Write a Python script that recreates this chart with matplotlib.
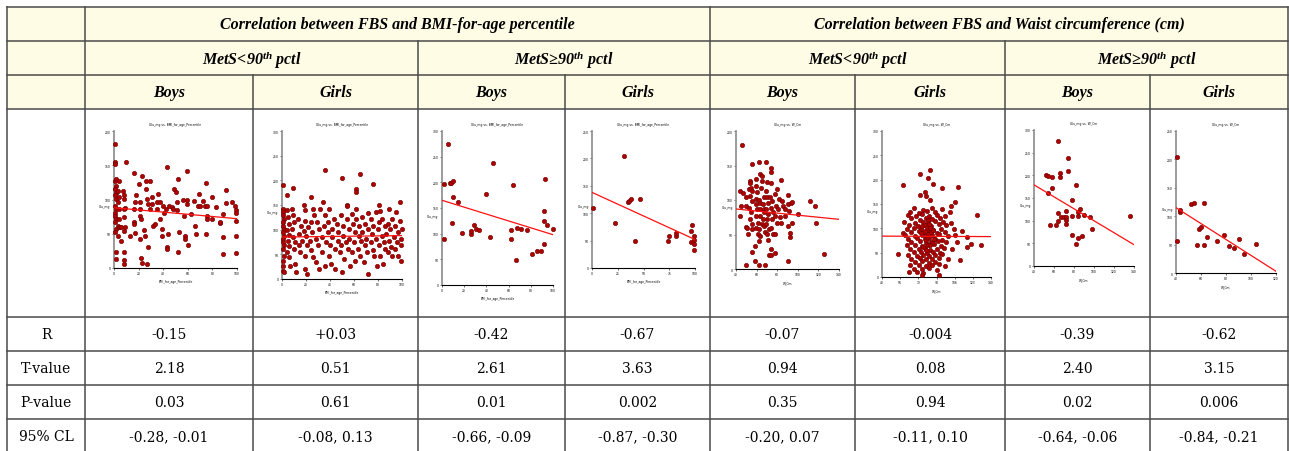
import numpy as np
import matplotlib
matplotlib.use("Agg")
import matplotlib.pyplot as plt
from matplotlib.patches import Rectangle

# table of FBS correlations with small scatter plots in the middle row

W, H = 1289, 452

group_titles = ["Correlation between FBS and BMI-for-age percentile",
                "Correlation between FBS and Waist circumference (cm)"]
mets_titles = ["MetS<90$^{\\mathrm{th}}$ pctl", "MetS\u226590$^{\\mathrm{th}}$ pctl",
               "MetS<90$^{\\mathrm{th}}$ pctl", "MetS\u226590$^{\\mathrm{th}}$ pctl"]
sex_titles = ["Boys", "Girls"] * 4

row_names = ["R", "T-value", "P-value", "95% CL"]
r_vals = ["-0.15", "+0.03", "-0.42", "-0.67", "-0.07", "-0.004", "-0.39", "-0.62"]
t_vals = ["2.18", "0.51", "2.61", "3.63", "0.94", "0.08", "2.40", "3.15"]
p_vals = ["0.03", "0.61", "0.01", "0.002", "0.35", "0.94", "0.02", "0.006"]
cl_vals = ["-0.28, -0.01", "-0.08, 0.13", "-0.66, -0.09", "-0.87, -0.30",
           "-0.20, 0.07", "-0.11, 0.10", "-0.64, -0.06", "-0.84, -0.21"]

# scatter data (x, Glu_mg)
boys_bmi_low = [
    (1, 181), (1, 155), (1, 152), (1, 127), (2, 130), (2, 120), (1, 115), (2, 110), (1, 106), (2, 101),
    (3, 96), (1, 91), (2, 86), (1, 81), (1, 76), (2, 72), (1, 67), (3, 62), (2, 57), (1, 52),
    (4, 127), (3, 113), (4, 103), (4, 86), (4, 72), (4, 60), (3, 47), (2, 24), (2, 13), (5, 60),
    (6, 60), (7, 113), (8, 106), (8, 101), (9, 87), (8, 86), (8, 74), (9, 60), (8, 54), (6, 40),
    (8, 23), (8, 12), (8, 6), (10, 155), (16, 138), (23, 135), (20, 122), (18, 106), (17, 96), (16, 86),
    (16, 67), (16, 64), (13, 47), (17, 51), (21, 96), (21, 86), (21, 76), (22, 72), (21, 43), (22, 14),
    (23, 8), (27, 6), (28, 30), (24, 55), (25, 47), (26, 115), (26, 127), (29, 127), (27, 101), (28, 93),
    (29, 86), (31, 103), (31, 93), (32, 62), (33, 64), (35, 96), (35, 86), (36, 108), (37, 96), (37, 72),
    (39, 57), (39, 47), (40, 91), (41, 81), (42, 86), (43, 30), (43, 28), (43, 147), (44, 50), (45, 91),
    (47, 89), (48, 86), (49, 115), (50, 111), (51, 84), (51, 96), (52, 130), (52, 23), (53, 52), (56, 100),
    (57, 76), (58, 47), (58, 43), (59, 141), (59, 100), (59, 93), (60, 34), (63, 79), (65, 98), (66, 62),
    (67, 50), (68, 91), (69, 108), (70, 91), (72, 98), (74, 91), (75, 50), (75, 124), (76, 91), (76, 76),
    (76, 72), (80, 103), (80, 71), (83, 89), (86, 66), (86, 67), (89, 45), (89, 21), (89, 79), (91, 114),
    (91, 95), (96, 96), (98, 91), (99, 85), (99, 80), (99, 68), (99, 46), (99, 22),
]
girls_bmi_low = [
    (36, 220), (50, 204), (65, 213), (76, 192), (62, 183), (62, 176), (1, 190), (9, 185), (4, 171), (24, 167),
    (34, 157), (81, 151), (98, 156), (54, 150), (54, 148), (72, 133), (82, 137), (62, 142),
    (1, 142), (1, 135), (1, 129), (2, 122), (1, 115), (1, 108), (2, 102), (1, 95), (2, 88), (1, 81),
    (1, 74), (2, 68), (1, 61), (2, 47), (1, 37), (1, 27), (1, 17), (2, 14),
    (4, 139), (5, 125), (6, 112), (4, 100), (6, 89), (5, 78), (6, 66), (4, 54), (6, 44), (7, 27),
    (8, 102), (8, 142), (9, 129), (10, 115), (9, 85), (11, 74), (10, 61), (11, 30), (12, 14), (13, 122),
    (14, 91), (14, 68), (15, 54), (16, 108), (17, 78), (18, 98), (18, 149), (19, 139), (19, 118), (20, 88),
    (21, 68), (19, 47), (19, 20), (21, 10), (22, 105), (23, 78), (24, 58), (24, 115), (25, 95), (26, 44),
    (26, 142), (27, 129), (28, 81), (28, 34), (29, 115), (30, 68), (31, 20), (31, 102), (32, 142), (33, 85),
    (33, 54), (35, 108), (36, 27), (36, 129), (37, 74), (38, 115), (38, 95), (39, 47), (39, 142), (40, 68),
    (41, 30), (42, 102), (42, 85), (43, 122), (44, 61), (44, 20), (46, 112), (47, 78), (47, 95), (48, 54),
    (49, 129), (49, 68), (50, 15), (51, 108), (51, 88), (52, 41), (53, 74), (54, 122), (55, 61), (56, 102),
    (56, 81), (57, 27), (58, 132), (58, 54), (59, 112), (60, 74), (61, 95), (61, 37), (62, 122), (63, 61),
    (64, 88), (64, 108), (65, 47), (66, 78), (67, 125), (67, 95), (68, 34), (69, 68), (69, 112), (70, 81),
    (71, 54), (72, 102), (72, 10), (74, 122), (74, 74), (75, 91), (76, 58), (76, 108), (77, 47), (78, 135),
    (78, 81), (79, 27), (80, 102), (81, 68), (81, 115), (82, 47), (83, 88), (83, 122), (84, 30), (85, 74),
    (86, 108), (86, 61), (87, 91), (88, 112), (88, 54), (89, 142), (89, 78), (90, 102), (91, 64), (92, 122),
    (92, 47), (93, 85), (94, 108), (94, 61), (95, 135), (96, 74), (97, 95), (97, 47), (98, 118), (99, 68),
    (99, 37), (99, 81), (100, 102),
]
boys_bmi_high = [
    (5, 275), (2, 197), (2, 89), (7, 198), (8, 199), (10, 203), (10, 172), (14, 161), (9, 121), (18, 101),
    (26, 100), (26, 105), (29, 117), (31, 110), (33, 108), (40, 177), (43, 93), (46, 238), (62, 107), (62, 89),
    (64, 195), (68, 112), (67, 49), (71, 110), (77, 107), (81, 61), (86, 67), (89, 67), (92, 144), (92, 79),
    (92, 124), (93, 207), (95, 116), (100, 110),
]
girls_bmi_high = [
    (31, 205), (1, 109), (22, 82), (35, 121), (36, 123), (38, 126), (47, 126), (42, 50), (74, 50), (75, 58),
    (82, 58), (82, 63), (96, 68), (97, 79), (96, 48), (99, 51), (99, 59), (99, 44), (99, 33),
]
boys_wc_low = [
    (46, 180), (44, 113), (47, 110), (50, 104), (45, 92), (44, 77), (50, 91), (50, 61), (51, 59), (52, 51),
    (50, 6), (54, 128), (54, 124), (53, 116), (55, 117), (56, 152), (56, 113), (54, 106), (56, 99), (53, 89),
    (55, 82), (54, 72), (56, 65), (56, 58), (56, 24), (58, 12), (58, 34), (59, 130), (59, 120), (60, 111),
    (59, 102), (59, 94), (60, 87), (59, 77), (61, 67), (59, 60), (61, 51), (62, 41), (62, 155), (62, 100),
    (63, 137), (65, 135), (64, 117), (63, 96), (63, 87), (63, 77), (65, 65), (62, 58), (63, 48), (62, 6),
    (65, 128), (67, 105), (66, 94), (67, 87), (67, 82), (66, 72), (67, 63), (68, 53), (68, 6), (69, 155),
    (70, 126), (69, 113), (70, 104), (71, 96), (69, 87), (71, 80), (70, 72), (69, 65), (72, 58), (70, 51),
    (71, 42), (72, 21), (74, 21), (74, 147), (74, 140), (74, 124), (73, 105), (75, 99), (74, 89), (76, 82),
    (75, 72), (74, 60), (76, 51), (74, 29), (78, 23), (78, 108), (79, 92), (78, 77), (80, 67), (78, 51),
    (80, 116), (82, 101), (81, 87), (83, 76), (84, 129), (85, 99), (86, 92), (84, 67), (88, 77), (88, 87),
    (90, 107), (90, 94), (91, 84), (90, 63), (92, 52), (92, 47), (93, 96), (94, 97), (94, 66), (90, 11),
    (100, 80), (112, 98), (117, 91), (118, 67), (125, 22),
]
girls_wc_low = [
    (75, 212), (84, 219), (82, 203), (87, 192), (59, 190), (95, 182), (110, 185), (75, 169), (79, 175), (80, 166),
    (84, 158), (107, 155), (103, 146), (127, 128), (59, 90), (55, 47), (131, 66), (122, 67), (118, 82), (112, 34),
    (113, 94), (118, 62),
    (69, 141), (78, 138), (86, 142), (95, 139), (66, 134), (74, 131), (81, 135), (89, 133), (102, 134),
    (64, 127), (71, 125), (77, 129), (83, 126), (90, 128), (98, 125), (67, 121), (75, 118), (80, 122), (86, 119),
    (93, 121), (60, 113), (70, 111), (78, 114), (82, 112), (89, 115), (96, 113), (103, 111), (65, 106), (73, 104),
    (79, 107), (85, 105), (92, 108), (99, 106), (63, 99), (69, 101), (76, 98), (81, 100), (87, 97), (94, 99),
    (106, 98), (67, 92), (74, 94), (78, 91), (83, 93), (90, 90), (98, 92), (61, 86), (70, 85), (77, 87),
    (80, 84), (86, 86), (92, 88), (101, 85), (107, 87), (64, 79), (72, 80), (79, 78), (83, 81), (89, 79),
    (95, 77), (67, 72), (75, 73), (80, 70), (85, 72), (91, 74), (99, 71), (109, 72), (63, 65), (70, 66),
    (77, 64), (82, 65), (88, 67), (94, 64), (66, 58), (74, 57), (79, 59), (84, 56), (90, 58), (97, 60),
    (104, 57), (69, 51), (76, 52), (81, 49), (87, 51), (93, 50), (64, 45), (72, 44), (78, 46), (83, 43),
    (89, 45), (95, 47), (67, 38), (75, 39), (80, 36), (86, 38), (92, 40), (101, 37), (70, 31), (77, 32),
    (83, 29), (89, 31), (66, 24), (74, 25), (80, 22), (86, 24), (92, 26), (98, 23), (69, 17), (77, 16),
    (83, 18), (90, 15), (65, 10), (72, 11), (78, 9), (77, 5), (92, 5),
    (79, 95), (82, 88), (84, 100), (80, 76), (86, 70), (78, 62), (83, 108), (81, 83), (85, 92), (77, 104),
    (88, 79), (80, 55), (84, 66), (76, 90), (82, 118), (87, 97),
]
boys_wc_high = [
    (64, 276), (74, 239), (52, 200), (54, 199), (58, 197), (66, 205), (66, 196), (74, 209), (58, 173), (54, 161),
    (82, 178), (78, 146), (64, 118), (72, 122), (67, 109), (70, 107), (72, 109), (72, 102), (72, 93), (64, 100),
    (56, 90), (62, 90), (78, 111), (84, 119), (86, 125), (84, 111), (90, 113), (96, 108), (78, 69), (88, 67),
    (84, 62), (82, 49), (98, 81), (136, 111),
]
girls_wc_high = [
    (41, 204), (41, 57), (43, 108), (43, 111), (52, 121), (54, 124), (62, 124), (58, 78), (60, 81), (57, 49),
    (62, 50), (65, 63), (73, 57), (78, 67), (82, 47), (86, 44), (90, 59), (94, 33), (104, 51),
]

# regression line value at left and right end of x range
fits = [(88, 72), (85, 88), (165, 98), (138, 52), (87, 72), (84, 83), (179, 47), (115, 3)]

plt.rcParams["mathtext.fontset"] = "custom"
plt.rcParams["mathtext.rm"] = "Liberation Serif:bold:italic"
plt.rcParams["mathtext.it"] = "Liberation Serif:bold:italic"
plt.rcParams["mathtext.bf"] = "Liberation Serif:bold:italic"

HEAD = dict(family=["Liberation Serif", "DejaVu Serif"], weight="bold", style="italic", fontsize=11.5)
BODY = dict(family=["DejaVu Serif"], fontsize=10)

fig = plt.figure(figsize=(W / 100, H / 100), dpi=100)
ax = fig.add_axes([0, 0, 1, 1])
ax.set_xlim(0, W)
ax.set_ylim(H, 0)
ax.axis("off")

cols = [7, 85, 253, 418, 565, 710, 855, 1005, 1150, 1288]
rows = [8, 42, 76, 110, 318, 352, 386, 420]
line_c = "#4a4a4a"

ax.add_patch(Rectangle((cols[0], rows[0]), cols[-1] - cols[0], rows[3] - rows[0],
                       fc="#FFFCE6", ec="none", zorder=0))
for y in rows:
    ax.plot([cols[0], cols[-1]], [y, y], color=line_c, lw=1.1)
for x in cols:
    if x in (7, 85, 710, 1288):
        top = rows[0]
    elif x in (418, 1005):
        top = rows[1]
    else:
        top = rows[2]
    ax.plot([x, x], [top, H], color=line_c, lw=1.1)

def mid(a, b):
    return (a + b) / 2

ax.text(mid(cols[1], cols[5]), mid(rows[0], rows[1]), group_titles[0], ha="center", va="center", **HEAD)
ax.text(mid(cols[5], cols[9]), mid(rows[0], rows[1]), group_titles[1], ha="center", va="center", **HEAD)
for k, t in enumerate(mets_titles):
    ax.text(mid(cols[1 + 2 * k], cols[3 + 2 * k]), mid(rows[1], rows[2]) + 1, t,
            ha="center", va="center", **HEAD)
for k, t in enumerate(sex_titles):
    ax.text(mid(cols[1 + k], cols[2 + k]), mid(rows[2], rows[3]), t, ha="center", va="center", **HEAD)

table_vals = [r_vals, t_vals, p_vals, cl_vals]
row_mids = [mid(rows[4], rows[5]), mid(rows[5], rows[6]), mid(rows[6], rows[7]), rows[7] + 17]
for name, vals, ym in zip(row_names, table_vals, row_mids):
    ax.text(mid(cols[0], cols[1]), ym, name, ha="center", va="center", **BODY)
    for k, v in enumerate(vals):
        ax.text(mid(cols[1 + k], cols[2 + k]), ym, v, ha="center", va="center", **BODY)

# small scatter panels
bmi_lab, wc_lab = "BMI_for_age_Percentile", "W_Cm"
panels = [
    (boys_bmi_low, (0, 100), np.arange(0, 101, 20), (0, 200), (114, 132, 237, 269), bmi_lab),
    (girls_bmi_low, (0, 100), np.arange(0, 101, 20), (0, 300), (282, 132, 402, 280), bmi_lab),
    (boys_bmi_high, (0, 100), np.arange(0, 101, 20), (0, 300), (442, 132, 553, 286), bmi_lab),
    (girls_bmi_high, (0, 100), np.arange(0, 101, 25), (0, 250), (592, 132, 695, 269), bmi_lab),
    (boys_wc_low, (40, 140), np.arange(40, 141, 20), (0, 200), (736, 132, 839, 270), wc_lab),
    (girls_wc_low, (40, 140), np.linspace(40, 140, 7), (0, 300), (882, 132, 991, 278), wc_lab),
    (boys_wc_high, (40, 140), np.arange(40, 141, 20), (0, 300), (1034, 131, 1134, 267), wc_lab),
    (girls_wc_high, (40, 120), np.arange(40, 121, 20), (0, 250), (1176, 132, 1276, 274), wc_lab),
]

tiny = 2.2
for (pts, xl, xt, yl, box, xlab), fit in zip(panels, fits):
    l, t, r, b = box
    pa = fig.add_axes([l / W, 1 - b / H, (r - l) / W, (b - t) / H])
    x, y = np.array(pts, dtype=float).T
    pa.scatter(x, y, s=10, c="#B00000", edgecolors="#6b0000", linewidths=0.4, zorder=3, clip_on=False)
    pa.plot(xl, fit, color="#FF1010", lw=0.9, zorder=4)
    pa.set_xlim(xl)
    pa.set_ylim(yl)
    pa.set_xticks(xt)
    pa.set_xticklabels(["%d" % v for v in xt])
    pa.set_yticks(np.arange(yl[0], yl[1] + 1, 50))
    pa.tick_params(labelsize=tiny, length=1.2, width=0.4, pad=1)
    for s in ("top", "right"):
        pa.spines[s].set_visible(False)
    pa.spines["left"].set_color("#8a8a8a")
    pa.spines["left"].set_linewidth(1.2)
    pa.spines["bottom"].set_color("black")
    pa.spines["bottom"].set_linewidth(0.8)
    pa.patch.set_alpha(0)
    pa.set_title("Glu_mg vs. " + xlab, fontsize=tiny, pad=4)
    pa.set_xlabel(xlab, fontsize=tiny, labelpad=3)
    pa.text(-0.03, 0.45, "Glu_mg", transform=pa.transAxes, fontsize=tiny, ha="right", va="center")

fig.savefig("out.png", dpi=100)
